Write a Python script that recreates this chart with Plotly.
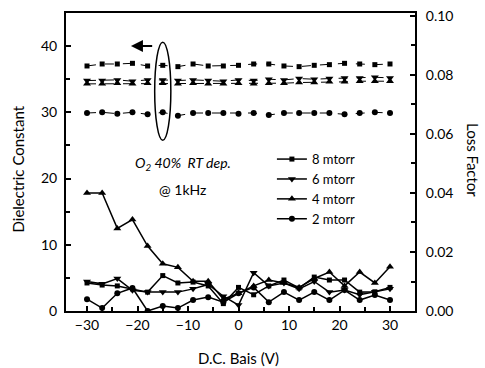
import plotly.graph_objects as go

bias = [-30, -27, -24, -21, -18, -15, -12, -9, -6, -3, 0, 3, 6, 9, 12, 15, 18, 21, 24, 27, 30]

# Dielectric constant (left axis)
eps_8 = [37.0, 37.3, 37.3, 37.4, 37.0, 37.1, 36.9, 37.3, 37.0, 37.0, 37.1, 37.3, 37.3, 37.0, 36.9, 37.1, 37.2, 37.4, 37.3, 37.2, 37.3]
eps_6 = [34.8, 34.8, 34.9, 34.7, 34.9, 34.9, 34.8, 34.9, 34.8, 34.7, 34.9, 34.8, 35.0, 34.9, 35.1, 35.0, 35.1, 35.2, 35.2, 35.3, 35.2]
eps_4 = [34.3, 34.3, 34.4, 34.3, 34.4, 34.4, 34.3, 34.4, 34.3, 34.3, 34.4, 34.3, 34.4, 34.4, 34.5, 34.5, 34.6, 34.6, 34.7, 34.7, 34.7]
eps_2 = [29.9, 30.0, 29.8, 30.0, 29.7, 30.0, 29.5, 29.9, 29.9, 29.9, 29.8, 29.9, 29.6, 29.9, 29.9, 29.9, 29.9, 29.7, 29.9, 30.0, 29.9]

# Loss factor (right axis)
loss_8 = [0.0095, 0.0088, 0.0085, 0.0075, 0.0064, 0.0120, 0.0095, 0.0098, 0.0085, 0.0025, 0.0080, 0.0055, 0.0085, 0.0105, 0.0078, 0.0115, 0.0105, 0.0105, 0.0064, 0.0065, 0.0080]
loss_6 = [0.0100, 0.0092, 0.0110, 0.0070, 0.0064, 0.0064, 0.0064, 0.0075, 0.0090, 0.0050, 0.0020, 0.0130, 0.0085, 0.0095, 0.0075, 0.0100, 0.0064, 0.0071, 0.0055, 0.0065, 0.0075]
loss_4 = [0.0400, 0.0400, 0.0280, 0.0310, 0.0220, 0.0160, 0.0148, 0.0101, 0.0101, 0.0040, 0.0060, 0.0085, 0.0105, 0.0095, 0.0080, 0.0110, 0.0132, 0.0085, 0.0132, 0.0095, 0.0150]
loss_2 = [0.0040, 0.0010, 0.0060, 0.0078, 0.0000, 0.0017, 0.0010, 0.0037, 0.0047, 0.0030, 0.0060, 0.0080, 0.0030, 0.0064, 0.0037, 0.0064, 0.0037, 0.0071, 0.0037, 0.0054, 0.0037]

names = ["8 mtorr", "6 mtorr", "4 mtorr", "2 mtorr"]
symbols = ["square", "triangle-down", "triangle-up", "circle"]
sizes = [5, 7, 7, 6]
eps_all = [eps_8, eps_6, eps_4, eps_2]
loss_all = [loss_8, loss_6, loss_4, loss_2]

FONT = "Lato"
fig = go.Figure()

for n, s, sz, e in zip(names, symbols, sizes, eps_all):
    fig.add_trace(go.Scatter(x=bias, y=e, mode="lines+markers", name=n, showlegend=False,
                             line=dict(color="black", width=1, dash="dash"),
                             marker=dict(symbol=s, size=sz, color="black")))

for n, s, sz, l in zip(names, symbols, sizes, loss_all):
    fig.add_trace(go.Scatter(x=bias, y=l, mode="lines+markers", name=n, yaxis="y2",
                             line=dict(color="black", width=1.5),
                             marker=dict(symbol=s, size=sz, color="black")))

fig.update_layout(
    width=485, height=368,
    margin=dict(l=66, r=70, t=13, b=57),
    paper_bgcolor="white", plot_bgcolor="white",
    font=dict(family=FONT, size=14, color="black"),
    showlegend=True,
    legend=dict(x=0.59, y=0.56, xanchor="left", yanchor="top",
                bgcolor="rgba(0,0,0,0)", font=dict(size=13, family=FONT),
                tracegroupgap=0),
    xaxis=dict(range=[-34.16, 34.95], tickvals=[-30, -20, -10, 0, 10, 20, 30],
               ticks="inside", ticklen=5, tickwidth=1.5, tickcolor="black",
               minor=dict(tickvals=[-25, -15, -5, 5, 15, 25], ticks="inside", ticklen=4, tickcolor="black"),
               showline=True, linecolor="black", linewidth=2, mirror=True,
               showgrid=False, zeroline=False, automargin=False,
               tickfont=dict(size=14)),
    yaxis=dict(range=[0, 45], tickvals=[0, 10, 20, 30, 40],
               ticks="inside", ticklen=5, tickwidth=1.5, tickcolor="black",
               minor=dict(tickvals=[5, 15, 25, 35], ticks="inside", ticklen=4, tickcolor="black"),
               showline=True, linecolor="black", linewidth=2, automargin=False,
               showgrid=False, zeroline=False, tickfont=dict(size=14),
               ticklabelstandoff=4),
    yaxis2=dict(range=[0, 0.101], overlaying="y", side="right",
                tickvals=[0.0, 0.02, 0.04, 0.06, 0.08, 0.10],
                ticktext=["0.00", "0.02", "0.04", "0.06", "0.08", "0.10"],
                ticks="inside", ticklen=5, tickwidth=1.5, tickcolor="black",
                minor=dict(tickvals=[0.01, 0.03, 0.05, 0.07, 0.09], ticks="inside", ticklen=4, tickcolor="black"),
                showline=True, linecolor="black", linewidth=2, automargin=False,
                showgrid=False, zeroline=False, tickfont=dict(size=14),
                ticklabelstandoff=6),
)

fig.add_annotation(text="D.C. Bais (V)", xref="paper", yref="paper", x=0.495, y=-0.158,
                   xanchor="center", yanchor="middle", showarrow=False, font=dict(size=15))
fig.add_annotation(text="Dielectric Constant", xref="paper", yref="paper", x=-0.1375, y=0.475,
                   xanchor="center", yanchor="middle",
                   textangle=-90, showarrow=False, font=dict(size=15))
fig.add_annotation(text="Loss Factor", xref="paper", yref="paper", x=1.166, y=0.507,
                   xanchor="center", yanchor="middle",
                   textangle=90, showarrow=False, font=dict(size=15))
fig.add_annotation(text="<i>O<sub>2</sub> 40%  RT dep.</i>", x=-11, y=22.3, showarrow=False,
                   font=dict(size=14))
fig.add_annotation(text="@ 1kHz", x=-11, y=18.4, showarrow=False, font=dict(size=14))
fig.add_annotation(x=-21.3, y=40.0, ax=-16.8, ay=40.0, axref="x", ayref="y", xref="x", yref="y",
                   text="", showarrow=True, arrowhead=2, arrowsize=1.2, arrowwidth=2, arrowcolor="black")
fig.add_shape(type="circle", xref="x", yref="y", x0=-16.6, x1=-13.4, y0=25.8, y1=40.6,
              line=dict(color="black", width=1.5))

fig.write_html("out.html")
